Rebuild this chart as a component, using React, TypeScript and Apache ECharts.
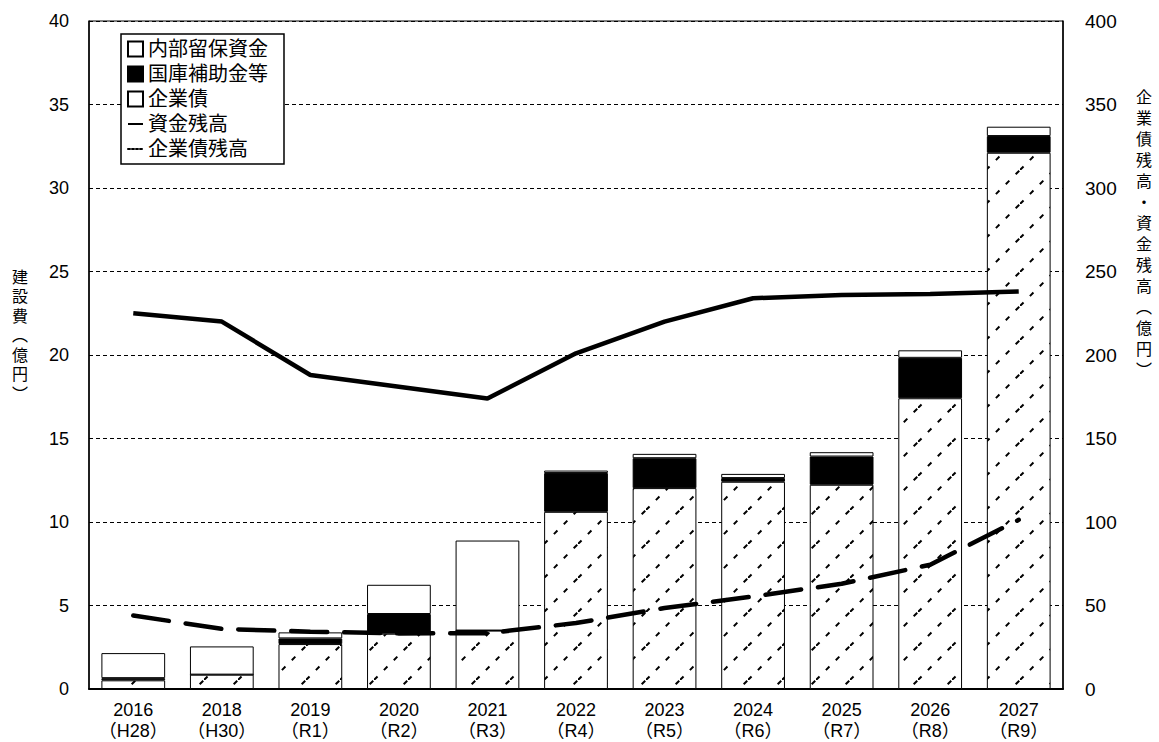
import React, { useEffect, useRef } from 'react';
import * as echarts from 'echarts';

const years = ['2016', '2018', '2019', '2020', '2021', '2022', '2023', '2024', '2025', '2026', '2027'];
const eras = ['（H28）', '（H30）', '（R1）', '（R2）', '（R3）', '（R4）', '（R5）', '（R6）', '（R7）', '（R8）', '（R9）'];
const categories = years.map((y, i) => y + '\n' + eras[i]);

// 建設費（億円） – stacked bars
const bondValues = [0.52, 0.86, 2.69, 3.31, 3.5, 10.61, 12.03, 12.41, 12.23, 17.41, 32.11];
const subsidyValues = [0.13, 0, 0.34, 1.18, 0, 2.32, 1.79, 0.22, 1.69, 2.42, 1.0];
const retainedValues = [1.5, 1.69, 0.36, 1.75, 5.39, 0.15, 0.26, 0.25, 0.26, 0.45, 0.56];

// 残高（億円） – lines on right axis
const fundBalance = [225, 220, 188, 181, 174, 201, 220, 234, 236, 236.5, 238];
const bondBalance = [44, 36, 34.3, 33.3, 33.4, 39.5, 48.5, 55.4, 63, 74.4, 101.3];

const leftAxis = { min: 0, max: 40, interval: 5 };
const rightAxis = { min: 0, max: 400, interval: 50 };

const leftTitle = ['建', '設', '費', '︵', '億', '円', '︶'];
const rightTitle = ['企', '業', '債', '残', '高', '・', '資', '金', '残', '高', '︵', '億', '円', '︶'];

function makeHatch() {
  const s = 34;
  const c = document.createElement('canvas');
  c.width = s;
  c.height = s;
  const ctx = c.getContext('2d')!;
  ctx.fillStyle = '#fff';
  ctx.fillRect(0, 0, s, s);
  ctx.strokeStyle = '#000';
  ctx.lineWidth = 2;
  ctx.setLineDash([5, 9]);
  ctx.beginPath();
  ctx.moveTo(0, s);
  ctx.lineTo(s, 0);
  ctx.stroke();
  return c;
}

const NUM_FONT = '"Liberation Sans", "Noto Sans CJK JP", sans-serif';

function verticalTitle(chars: string[], cx: number, top: number, step: number) {
  return {
    type: 'group',
    children: chars.map((ch, i) => ({
      type: 'text',
      x: cx,
      y: top + i * step,
      style: {
        text: ch,
        fontSize: 16,
        fill: '#000',
        fontFamily: NUM_FONT,
        align: 'center',
        verticalAlign: 'middle',
      },
    })),
  };
}

export default function App() {
  const ref = useRef<HTMLDivElement>(null);

  useEffect(() => {
    document.body.style.margin = '0';
    const chart = echarts.init(ref.current!, undefined, { renderer: 'svg' });
    const hatch = makeHatch();
    const barBorder = { borderColor: '#000', borderWidth: 1 };

    const option: any = {
      animation: false,
      textStyle: { fontFamily: NUM_FONT, color: '#000' },
      grid: {
        left: 89,
        right: 96,
        top: 21,
        bottom: 53,
        show: true,
        borderColor: '#000',
        borderWidth: 1,
        backgroundColor: 'transparent',
      },
      legend: {
        orient: 'vertical',
        left: 121,
        top: 34,
        backgroundColor: '#fff',
        borderColor: '#000',
        borderWidth: 1.5,
        borderRadius: 0,
        padding: [5, 16, 5, 6],
        itemWidth: 15,
        itemHeight: 15,
        itemGap: 5,
        textStyle: { fontSize: 20, color: '#000', fontFamily: NUM_FONT },
        data: [
          { name: '内部留保資金', icon: 'rect' },
          { name: '国庫補助金等', icon: 'rect' },
          { name: '企業債', icon: 'rect' },
          { name: '資金残高', lineStyle: { width: 2, type: 'solid' }, itemStyle: { opacity: 0 } },
          { name: '企業債残高', lineStyle: { width: 2, type: 'dotted' }, itemStyle: { opacity: 0 } },
        ],
      },
      xAxis: {
        type: 'category',
        data: categories,
        axisLine: { lineStyle: { color: '#000', width: 2 } },
        axisTick: { inside: true, length: 5, lineStyle: { color: '#000' } },
        axisLabel: {
          fontSize: 18,
          color: '#000',
          lineHeight: 21,
          margin: 10,
          interval: 0,
          fontFamily: NUM_FONT,
        },
      },
      yAxis: [
        {
          type: 'value',
          ...leftAxis,
          axisLine: { show: true, lineStyle: { color: '#000', width: 1.5 } },
          axisTick: { show: false },
          axisLabel: { fontSize: 18, color: '#000', margin: 20 },
          splitLine: { lineStyle: { color: '#000', type: [4, 3], width: 1 } },
        },
        {
          type: 'value',
          ...rightAxis,
          position: 'right',
          axisLine: { show: true, lineStyle: { color: '#000', width: 1.5 } },
          axisTick: { show: false },
          axisLabel: { fontSize: 19, color: '#000', margin: 22 },
          splitLine: { show: false },
        },
      ],
      graphic: [verticalTitle(leftTitle, 20, 277, 19.5), verticalTitle(rightTitle, 1144, 97, 21)],
      series: [
        {
          name: '企業債',
          type: 'bar',
          stack: 'cost',
          barWidth: '72%',
          data: bondValues,
          itemStyle: { color: { image: hatch, repeat: 'repeat' }, ...barBorder },
        },
        {
          name: '国庫補助金等',
          type: 'bar',
          stack: 'cost',
          barWidth: '72%',
          data: subsidyValues,
          itemStyle: { color: '#000', ...barBorder },
        },
        {
          name: '内部留保資金',
          type: 'bar',
          stack: 'cost',
          barWidth: '72%',
          data: retainedValues,
          itemStyle: { color: '#fff', ...barBorder },
        },
        {
          name: '資金残高',
          type: 'line',
          yAxisIndex: 1,
          data: fundBalance,
          symbol: 'none',
          z: 5,
          lineStyle: { color: '#000', width: 4.5 },
          itemStyle: { color: '#000' },
        },
        {
          name: '企業債残高',
          type: 'line',
          yAxisIndex: 1,
          data: bondBalance,
          symbol: 'none',
          z: 5,
          lineStyle: { color: '#000', width: 4.5, type: [36, 17], cap: 'round' },
          itemStyle: { color: '#000' },
        },
      ],
    };

    chart.setOption(option);
    return () => chart.dispose();
  }, []);

  return <div ref={ref} style={{ width: 1159, height: 742 }} />;
}
